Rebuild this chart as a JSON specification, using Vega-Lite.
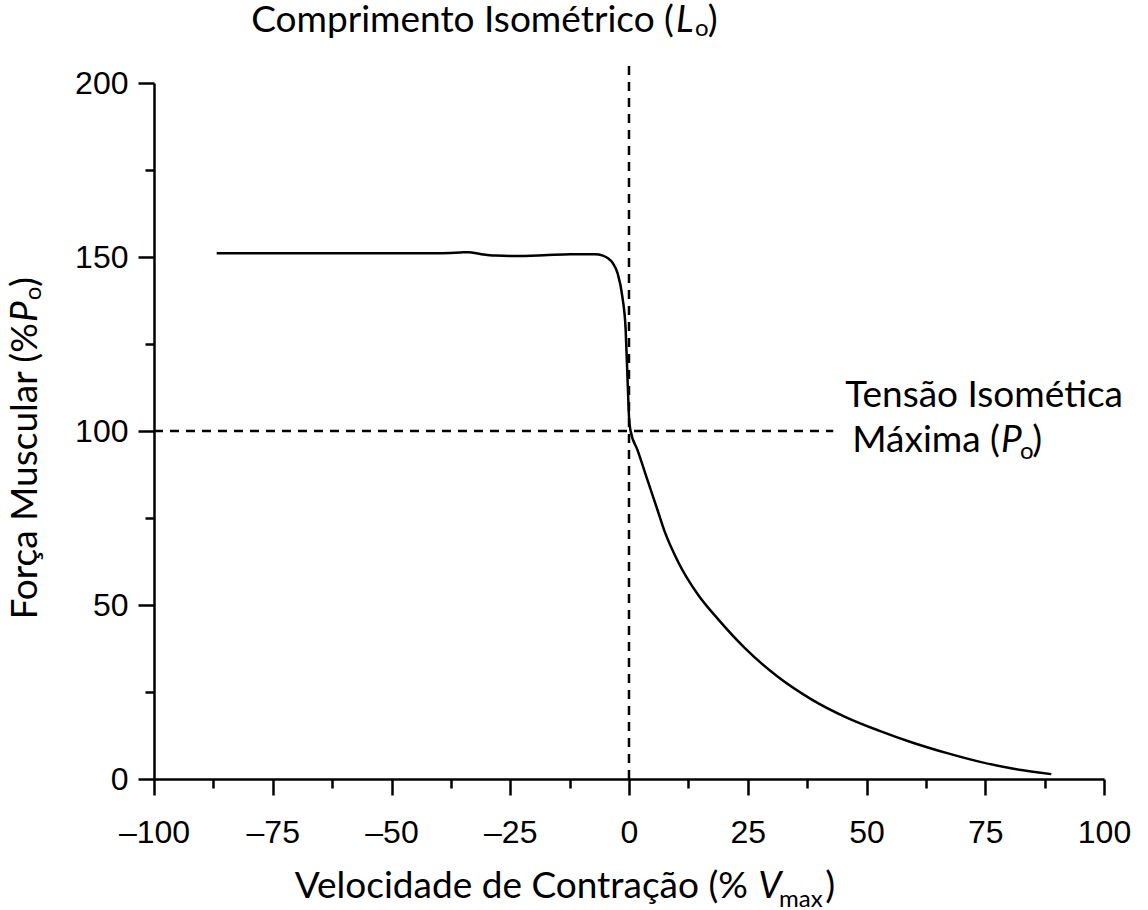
{
  "$schema": "https://vega.github.io/schema/vega-lite/v6.json",
  "width": 950,
  "height": 696,
  "autosize": "none",
  "padding": {"left": 154, "top": 83, "right": 44, "bottom": 131},
  "background": "white",
  "config": {
    "view": {"stroke": null},
    "axis": {
      "grid": false,
      "domainColor": "black",
      "domainWidth": 2.5,
      "tickColor": "black",
      "tickWidth": 2.5,
      "labelColor": "black",
      "labelFont": "Liberation Sans",
      "labelFontSize": 32,
      "labelFlush": false,
      "labelOverlap": false,
      "labelBound": false
    }
  },
  "datasets": {
    "curva": [
      {"velocidade": -86.8, "forca": 151.1},
      {"velocidade": -60, "forca": 151.1},
      {"velocidade": -40, "forca": 151.1},
      {"velocidade": -35.5, "forca": 151.3},
      {"velocidade": -33.8, "forca": 151.4},
      {"velocidade": -31.1, "forca": 150.8},
      {"velocidade": -28, "forca": 150.4},
      {"velocidade": -24, "forca": 150.3},
      {"velocidade": -18, "forca": 150.5},
      {"velocidade": -12.3, "forca": 150.8},
      {"velocidade": -7.2, "forca": 150.8},
      {"velocidade": -5.5, "forca": 150.4},
      {"velocidade": -4.5, "forca": 149.7},
      {"velocidade": -3.4, "forca": 148.2},
      {"velocidade": -2.4, "forca": 145.3},
      {"velocidade": -1.4, "forca": 138.6},
      {"velocidade": -0.7, "forca": 129},
      {"velocidade": -0.3, "forca": 114.7},
      {"velocidade": 0.0, "forca": 104.1},
      {"velocidade": 0.3, "forca": 100.3},
      {"velocidade": 1.8, "forca": 94.5},
      {"velocidade": 3.9, "forca": 85.9},
      {"velocidade": 6.0, "forca": 77.3},
      {"velocidade": 7.4, "forca": 71.5},
      {"velocidade": 10.3, "forca": 62.5},
      {"velocidade": 14.5, "forca": 53.0},
      {"velocidade": 18.7, "forca": 46.0},
      {"velocidade": 24.4, "forca": 37.6},
      {"velocidade": 31.4, "forca": 29.3},
      {"velocidade": 38.4, "forca": 22.9},
      {"velocidade": 45.6, "forca": 17.8},
      {"velocidade": 52.6, "forca": 13.9},
      {"velocidade": 59.6, "forca": 10.5},
      {"velocidade": 66.8, "forca": 7.5},
      {"velocidade": 73.7, "forca": 5.0},
      {"velocidade": 80.7, "forca": 3.0},
      {"velocidade": 88.9, "forca": 1.4}
    ],
    "referencias": [
      {"velocidade": 0, "velocidade2": 0, "forca": 0, "forca2": 205},
      {"velocidade": -100, "velocidade2": 43, "forca": 100, "forca2": 100}
    ],
    "rotulos": [
      {"eixo": "horizontal", "peca": "principal", "velocidade": 9.47, "forca": 214.7, "texto": "Comprimento Isométrico ("},
      {"eixo": "horizontal", "peca": "italico", "velocidade": 9.9, "forca": 214.7, "texto": "L"},
      {"eixo": "horizontal", "peca": "indice", "velocidade": 13.9, "forca": 213.5, "texto": "o"},
      {"eixo": "horizontal", "peca": "fecho", "velocidade": 16.6, "forca": 214.7, "texto": ")"},
      {"eixo": "horizontal", "peca": "principal", "velocidade": 104.0, "forca": 106.9, "texto": "Tensão Isomética"},
      {"eixo": "horizontal", "peca": "principal", "velocidade": 78.1, "forca": 94.0, "texto": "Máxima ("},
      {"eixo": "horizontal", "peca": "italico", "velocidade": 78.3, "forca": 94.0, "texto": "P"},
      {"eixo": "horizontal", "peca": "indice", "velocidade": 82.3, "forca": 92.0, "texto": "o"},
      {"eixo": "horizontal", "peca": "fecho", "velocidade": 84.9, "forca": 94.0, "texto": ")"},
      {"eixo": "horizontal", "peca": "principal", "velocidade": 25.05, "forca": -34.2, "texto": "Velocidade de Contração (%"},
      {"eixo": "horizontal", "peca": "italico", "velocidade": 27.2, "forca": -34.2, "texto": "V"},
      {"eixo": "horizontal", "peca": "indice", "velocidade": 31.6, "forca": -36.8, "texto": "max"},
      {"eixo": "horizontal", "peca": "fecho", "velocidade": 41.3, "forca": -34.2, "texto": ")"},
      {"eixo": "vertical", "peca": "principal", "velocidade": -124.6, "forca": 131.0, "texto": "Força Muscular (%"},
      {"eixo": "vertical", "peca": "italico", "velocidade": -124.6, "forca": 131.3, "texto": "P"},
      {"eixo": "vertical", "peca": "indice", "velocidade": -123.8, "forca": 137.6, "texto": "o"},
      {"eixo": "vertical", "peca": "fecho", "velocidade": -124.6, "forca": 141.4, "texto": ")"}
    ]
  },
  "encoding": {
    "x": {
      "field": "velocidade", "type": "quantitative",
      "scale": {"domain": [-100, 100], "nice": false, "zero": false},
      "axis": {
        "title": null,
        "values": [-100, -87.5, -75, -62.5, -50, -37.5, -25, -12.5, 0, 12.5, 25, 37.5, 50, 62.5, 75, 87.5, 100],
        "labelExpr": "datum.value % 25 === 0 ? (datum.value < 0 ? '–' + abs(datum.value) : '' + datum.value) : ''",
        "tickSize": {"condition": {"test": "datum.value % 25 === 0", "value": 16}, "value": 9},
        "labelPadding": 22
      }
    },
    "y": {
      "field": "forca", "type": "quantitative",
      "scale": {"domain": [0, 200], "nice": false},
      "axis": {
        "title": null,
        "values": [0, 25, 50, 75, 100, 125, 150, 175, 200],
        "labelExpr": "datum.value % 50 === 0 ? datum.label : ''",
        "tickSize": {"condition": {"test": "datum.value % 50 === 0", "value": 16}, "value": 9},
        "labelPadding": 10
      }
    }
  },
  "layer": [
    {
      "data": {"name": "curva"},
      "mark": {"type": "line", "color": "black", "strokeWidth": 2.5, "interpolate": "monotone"}
    },
    {
      "data": {"name": "referencias"},
      "mark": {"type": "rule", "color": "black", "strokeWidth": 2.5, "strokeDash": [9, 7]},
      "encoding": {
        "x2": {"field": "velocidade2"},
        "y2": {"field": "forca2"}
      }
    },
    {
      "data": {"name": "rotulos"},
      "transform": [{"filter": "datum.eixo === 'horizontal' && datum.peca === 'principal'"}],
      "mark": {"type": "text", "font": "Lato", "fontSize": 37, "color": "black", "align": "right", "baseline": "alphabetic"},
      "encoding": {"text": {"field": "texto"}}
    },
    {
      "data": {"name": "rotulos"},
      "transform": [{"filter": "datum.eixo === 'horizontal' && datum.peca === 'italico'"}],
      "mark": {"type": "text", "font": "Lato", "fontSize": 37, "fontStyle": "italic", "color": "black", "align": "left", "baseline": "alphabetic"},
      "encoding": {"text": {"field": "texto"}}
    },
    {
      "data": {"name": "rotulos"},
      "transform": [{"filter": "datum.eixo === 'horizontal' && datum.peca === 'indice'"}],
      "mark": {"type": "text", "font": "Lato", "fontSize": 24, "color": "black", "align": "left", "baseline": "alphabetic"},
      "encoding": {"text": {"field": "texto"}}
    },
    {
      "data": {"name": "rotulos"},
      "transform": [{"filter": "datum.eixo === 'horizontal' && datum.peca === 'fecho'"}],
      "mark": {"type": "text", "font": "Lato", "fontSize": 37, "color": "black", "align": "left", "baseline": "alphabetic"},
      "encoding": {"text": {"field": "texto"}}
    },
    {
      "data": {"name": "rotulos"},
      "transform": [{"filter": "datum.eixo === 'vertical' && datum.peca === 'principal'"}],
      "mark": {"type": "text", "font": "Lato", "fontSize": 37, "color": "black", "align": "right", "baseline": "alphabetic", "angle": 270},
      "encoding": {"text": {"field": "texto"}}
    },
    {
      "data": {"name": "rotulos"},
      "transform": [{"filter": "datum.eixo === 'vertical' && datum.peca === 'italico'"}],
      "mark": {"type": "text", "font": "Lato", "fontSize": 37, "fontStyle": "italic", "color": "black", "align": "left", "baseline": "alphabetic", "angle": 270},
      "encoding": {"text": {"field": "texto"}}
    },
    {
      "data": {"name": "rotulos"},
      "transform": [{"filter": "datum.eixo === 'vertical' && datum.peca === 'indice'"}],
      "mark": {"type": "text", "font": "Lato", "fontSize": 24, "color": "black", "align": "left", "baseline": "alphabetic", "angle": 270},
      "encoding": {"text": {"field": "texto"}}
    },
    {
      "data": {"name": "rotulos"},
      "transform": [{"filter": "datum.eixo === 'vertical' && datum.peca === 'fecho'"}],
      "mark": {"type": "text", "font": "Lato", "fontSize": 37, "color": "black", "align": "left", "baseline": "alphabetic", "angle": 270},
      "encoding": {"text": {"field": "texto"}}
    }
  ]
}
